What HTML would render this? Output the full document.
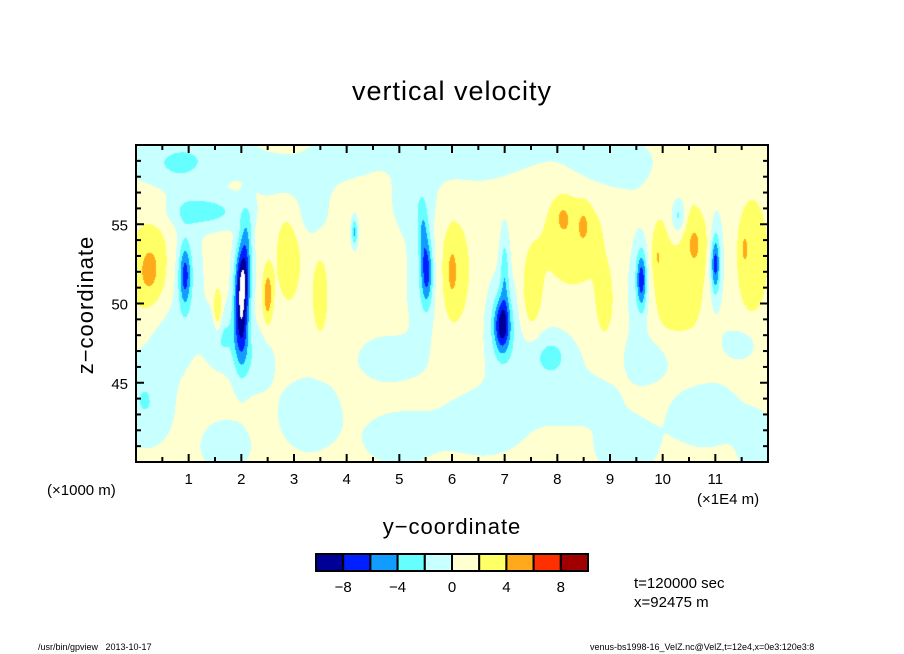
<!DOCTYPE html>
<html><head><meta charset="utf-8"><style>
body{margin:0;background:#fff;width:904px;height:654px;overflow:hidden;position:relative;font-family:"Liberation Sans",sans-serif}
.t{position:absolute;white-space:nowrap;color:#000}
canvas{position:absolute;left:136px;top:145px}
svg{position:absolute;left:0;top:0}
</style></head><body>
<div class="t" style="left:0;width:904px;text-align:center;top:76px;font-size:27px;letter-spacing:1px">vertical velocity</div>
<canvas id="cv" width="632" height="317"></canvas>
<svg id="ax" width="904" height="654"></svg>
<div class="t" style="left:86px;top:305px;font-size:22px;transform:translate(-50%,-50%) rotate(-90deg);letter-spacing:1px">z−coordinate</div>
<div class="t" style="left:0;width:904px;text-align:center;top:514px;font-size:22px;letter-spacing:1px">y−coordinate</div>
<div class="t" style="left:47px;top:482px;font-size:15px">(×1000 m)</div>
<div class="t" style="left:697px;top:491px;font-size:15px">(×1E4 m)</div>
<div class="t" style="left:634px;top:575px;font-size:15px">t=120000 sec</div>
<div class="t" style="left:634px;top:594px;font-size:15px">x=92475 m</div>
<div class="t" style="left:38px;top:642px;font-size:9px">/usr/bin/gpview&nbsp;&nbsp;&nbsp;2013-10-17</div>
<div class="t" style="left:590px;top:642px;font-size:9px">venus-bs1998-16_VelZ.nc@VelZ,t=12e4,x=0e3:120e3:8</div>
<script>
const levels=[-10,-8,-6,-4,-2,0,2,4,6,8,10];
const colors=["#000096","#0020ff","#129cff","#66ffff","#c8ffff","#ffffd0","#ffff66","#ffaa1a","#ff3000","#a00000"];
const cbLabels=[-8,-4,0,4,8];
const xTicks=[1,2,3,4,5,6,7,8,9,10,11];
const yTicks=[45,50,55];
// blobs: y-coordinate (1E4 m), z (1000 m), amplitude, sigma-y, sigma-z
const blobY=[2.0,2.05,2.1,0.93,5.52,5.45,6.95,7.0,9.6,11.0,1.3,10.3,4.15,1.6,0.25,0.3,1.55,2.5,2.9,3.5,6.0,6.0,7.5,8.1,8.5,8.3,8.9,9.9,10.0,10.6,10.6,11.7,11.55,0.6,0.2,1.7,3.3,6.6,8.2,9.3,10.8,11.8,4.8,7.8,9.8,11.5,1.0,3.0,6.0,9.0,3.3,7.9,2.2,0.95,5.5,9.6,11.0,7.0,10.3,0.5,5.3,1.2,4.0,6.5,9.0,0.1,5.0];
const blobZ=[49.5,52.0,54.5,51.8,52.0,54.5,48.6,52.0,51.5,52.5,55.8,55.5,54.5,48.0,52.0,52.0,49.5,50.5,53.0,50.5,52.0,52.0,50.5,55.5,55.0,54.0,50.0,53.0,52.0,54.0,52.0,53.0,53.5,58.5,43.0,41.0,43.0,42.5,44.0,41.0,43.0,41.0,46.5,46.5,46.5,47.5,58.8,57.8,58.8,58.5,55.5,47.0,46.5,51.5,51.5,51.5,52.5,48.5,53.0,48.0,56.5,59.5,59.5,59.5,59.0,45.0,41.5];
const blobA=[-9.5,-6,-3,-6,-6.5,-3,-8,-3.5,-7,-7,-3.5,-4,-5,-3,1.8,2.6,4.5,4.5,2.6,2.6,1.8,2.6,2.6,1.8,1.8,2.6,2.6,1.8,2.6,2.2,2.6,2.8,1.5,-1.4,-1.8,-1.8,-1.8,-1.8,-1.8,-1.8,-1.8,-1.8,-1.7,-1.8,-1.8,-1.7,-1.0,-1.7,-1.1,-1.1,-1.5,-1.5,-2,-2,-2,-2,-2,-2,-1.9,-1.9,-1.9,-1.1,-1.6,-1.1,-1.0,-1.6,-1.5];
const blobSY=[0.1,0.1,0.08,0.08,0.08,0.06,0.11,0.06,0.07,0.06,0.5,0.1,0.04,0.2,0.15,0.35,0.06,0.07,0.2,0.12,0.07,0.3,0.15,0.12,0.08,0.5,0.12,0.07,0.3,0.2,0.35,0.25,0.05,0.48,0.32,0.32,0.4,0.56,0.64,0.4,0.48,0.24,0.4,0.4,0.32,0.24,0.56,0.48,0.64,0.64,0.25,0.25,0.28,0.22,0.24,0.22,0.2,0.28,0.22,0.28,0.28,0.9,0.4,1.3,0.5,0.3,0.5];
const blobSZ=[2.2,1.5,1.2,1.4,1.5,1.2,1.2,1.8,1.3,1.3,0.7,0.8,0.6,1.2,1.2,3,1,1.3,2.5,2,1.2,3,2,0.8,0.8,2.5,1.5,1.1,3.2,1.4,3,3,0.8,1.1,1.4,1.1,1.6,1.4,1.1,1.2,1.4,1.4,1.0,1.0,1.0,0.8,1.1,1.0,1.0,1.1,1.1,1.1,1.4,3,3,3,3,2.5,2,2,1.4,1.1,1.0,1.0,1.0,1.5,1.2];
const base=0.6;
const X0=136,Y0=145,W=632,H=317,XMIN=0,XMAX=12,ZMIN=40,ZMAX=60;
function sx(v){return X0+(v-XMIN)/(XMAX-XMIN)*W;}
function sy(v){return Y0+(ZMAX-v)/(ZMAX-ZMIN)*H;}
function hex(c){return [parseInt(c.slice(1,3),16),parseInt(c.slice(3,5),16),parseInt(c.slice(5,7),16)];}
const rgb=colors.map(hex);
const cv=document.getElementById('cv'),ctx=cv.getContext('2d');
const img=ctx.createImageData(W,H);
for(let j=0;j<H;j++){const z=ZMAX-(j+0.5)/H*(ZMAX-ZMIN);
 for(let i=0;i<W;i++){const y=XMIN+(i+0.5)/W*(XMAX-XMIN);
  let f=base;
  for(let k=0;k<blobY.length;k++){const dy=(y-blobY[k])/blobSY[k],dz=(z-blobZ[k])/blobSZ[k];const q=dy*dy+dz*dz;if(q<20)f+=blobA[k]*Math.exp(-0.5*q);}
  let c=[255,255,255];
  if(f>=levels[0]){let idx=levels.length-2;for(let m=0;m<levels.length-1;m++){if(f<levels[m+1]){idx=m;break;}}c=rgb[idx];}
  const p=(j*W+i)*4;img.data[p]=c[0];img.data[p+1]=c[1];img.data[p+2]=c[2];img.data[p+3]=255;}}
ctx.putImageData(img,0,0);
const NS="http://www.w3.org/2000/svg",svg=document.getElementById('ax');
function el(t,a){const e=document.createElementNS(NS,t);for(const k in a)e.setAttribute(k,a[k]);svg.appendChild(e);return e;}
const fr=el('rect',{x:X0,y:Y0,width:W,height:H,fill:'none',stroke:'#000','stroke-width':2});


for(let v=0.5;v<XMAX;v+=0.5){const maj=Math.abs(v-Math.round(v))<1e-6;const L=maj?8:5;
 el('line',{x1:sx(v),x2:sx(v),y1:Y0+H,y2:Y0+H-L,stroke:'#000','stroke-width':2});
 el('line',{x1:sx(v),x2:sx(v),y1:Y0,y2:Y0+L,stroke:'#000','stroke-width':2});}
for(let v=ZMIN+1;v<ZMAX;v++){const maj=v%5===0;const L=maj?8:5;
 el('line',{x1:X0,x2:X0+L,y1:sy(v),y2:sy(v),stroke:'#000','stroke-width':2});
 el('line',{x1:X0+W,x2:X0+W-L,y1:sy(v),y2:sy(v),stroke:'#000','stroke-width':2});}
xTicks.forEach(v=>{const t=el('text',{x:sx(v),y:484,'text-anchor':'middle','font-size':15,'font-family':'Liberation Sans'});t.textContent=v;
 
 });
yTicks.forEach(v=>{const t=el('text',{x:128,y:sy(v)+6,'text-anchor':'end','font-size':15,'font-family':'Liberation Sans'});t.textContent=v;
 
 });
const CBX=316,CBW=272,CBY=554,CBH=17,bw=CBW/colors.length;
colors.forEach((c,i)=>{const r=el('rect',{x:CBX+i*bw,y:CBY,width:bw,height:CBH,fill:c,stroke:'#000','stroke-width':2});
 
 });
cbLabels.forEach(v=>{const i=levels.indexOf(v);const t=el('text',{x:CBX+i*bw,y:592,'text-anchor':'middle','font-size':15,'font-family':'Liberation Sans'});t.textContent=v<0?'−'+(-v):v;
 
 });
</script>
</body></html>
